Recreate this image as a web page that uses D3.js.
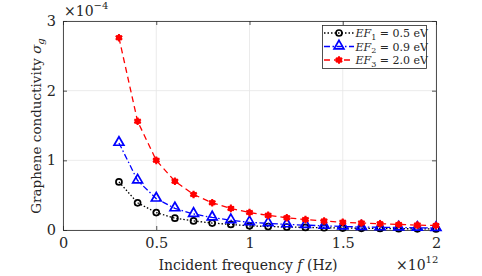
<!DOCTYPE html>
<html><head><meta charset="utf-8">
<script src="https://cdn.jsdelivr.net/npm/d3@7"></script>
<style>body{margin:0;background:#fff}svg{display:block}</style>
</head><body><svg id="c" width="482" height="276"></svg>
<script>
const freq = [0.3,0.4,0.5,0.6,0.7,0.8,0.9,1.0,1.1,1.2,1.3,1.4,1.5,1.6,1.7,1.8,1.9,2.0];
const ef1 = [0.69,0.39,0.25,0.17,0.13,0.10,0.08,0.06,0.05,0.043,0.037,0.032,0.028,0.024,0.022,0.019,0.017,0.016];
const ef2 = [1.25,0.71,0.45,0.31,0.23,0.18,0.14,0.11,0.095,0.08,0.07,0.06,0.05,0.044,0.039,0.035,0.031,0.028];
const ef3 = [2.76,1.56,1.00,0.70,0.51,0.39,0.31,0.25,0.21,0.175,0.15,0.13,0.11,0.10,0.09,0.08,0.07,0.065];
const xTicks = [0,0.5,1,1.5,2];
const xTickLabels = ["0","0.5","1","1.5","2"];
const yTicks = [0,1,2,3];
const yTickLabels = ["0","1","2","3"];
const legendLabels = [["EF","1","0.5"],["EF","2","0.9"],["EF","3","2.0"]];

const FONT = "'DejaVu Serif', serif";
const svg = d3.select("#c");
const L=63,R=436,T=21,B=230;
const x = d3.scaleLinear().domain([0,2]).range([L,R]);
const y = d3.scaleLinear().domain([0,3]).range([B,T]);

const g = svg.append("g");
xTicks.forEach(t=>g.append("line").attr("x1",x(t)).attr("x2",x(t)).attr("y1",T).attr("y2",B).attr("stroke","#e6e6e6").attr("stroke-width",0.8));
yTicks.forEach(t=>g.append("line").attr("x1",L).attr("x2",R).attr("y1",y(t)).attr("y2",y(t)).attr("stroke","#e6e6e6").attr("stroke-width",0.8));

const xa = svg.append("g").attr("transform",`translate(0,${B})`).call(d3.axisBottom(x).tickValues(xTicks).tickFormat((d,i)=>xTickLabels[i]).tickSizeInner(-4).tickSizeOuter(0).tickPadding(8));
const xa2 = svg.append("g").attr("transform",`translate(0,${T})`).call(d3.axisTop(x).tickValues(xTicks).tickFormat("").tickSizeInner(-4).tickSizeOuter(0));
const ya = svg.append("g").attr("transform",`translate(${L},0)`).call(d3.axisLeft(y).tickValues(yTicks).tickFormat((d,i)=>yTickLabels[i]).tickSizeInner(-4).tickSizeOuter(0).tickPadding(7));
const ya2 = svg.append("g").attr("transform",`translate(${R},0)`).call(d3.axisRight(y).tickValues(yTicks).tickFormat("").tickSizeInner(-4).tickSizeOuter(0));
[xa,xa2,ya,ya2].forEach(a=>{a.attr("font-family",FONT);a.select(".domain").attr("stroke","#262626").attr("stroke-width",0.8);a.selectAll("line").attr("stroke","#262626").attr("stroke-width",0.8);a.selectAll("text").style("font-family",FONT).style("font-size","14.5px").attr("fill","#262626");});

const series = [
 {v:ef1,color:"#000",dash:"1.5,2",marker:"circle"},
 {v:ef2,color:"#0000ff",dash:"6,2.5,1.5,2.5",marker:"tri"},
 {v:ef3,color:"#ff0000",dash:"6,4",marker:"star"}
];
const line = d3.line().x(d=>x(d[0])).y(d=>y(d[1]));
function drawMarker(sel,m,color,cx,cy){
  if(m==="circle") sel.append("circle").attr("cx",cx).attr("cy",cy).attr("r",3).attr("fill","none").attr("stroke",color).attr("stroke-width",1.7);
  else if(m==="tri") sel.append("path").attr("d",d3.symbol(d3.symbolTriangle,42)()).attr("transform",`translate(${cx},${cy-0.5})`).attr("fill","none").attr("stroke",color).attr("stroke-width",1.7);
  else {sel.append("path").attr("d",d3.symbol(d3.symbolAsterisk,40)()).attr("transform",`translate(${cx},${cy})`).attr("fill","none").attr("stroke",color).attr("stroke-width",2);
        sel.append("circle").attr("cx",cx).attr("cy",cy).attr("r",3).attr("fill",color);}
}
series.forEach(s=>{
  const pts = freq.map((f,i)=>[f,s.v[i]]);
  svg.append("path").attr("d",line(pts)).attr("fill","none").attr("stroke",s.color).attr("stroke-width",1.3).attr("stroke-dasharray",s.dash);
  const mg = svg.append("g");
  pts.forEach(p=>drawMarker(mg,s.marker,s.color,x(p[0]),y(p[1])));
});

function txt(sel){return sel.append("text").style("font-family",FONT).attr("fill","#262626");}

const lg = svg.append("g");
lg.append("rect").attr("x",322.5).attr("y",25.5).attr("width",104).attr("height",43).attr("fill","#fff").attr("stroke","#262626").attr("stroke-width",0.8);
series.forEach((s,i)=>{
  const yy = 33+i*13.5;
  lg.append("line").attr("x1",324).attr("x2",354).attr("y1",yy).attr("y2",yy).attr("stroke",s.color).attr("stroke-width",1.3).attr("stroke-dasharray",s.dash);
  drawMarker(lg,s.marker,s.color,339,yy);
  const t = txt(lg).attr("x",355.5).attr("y",yy+4).style("font-size","11px");
  t.append("tspan").style("font-style","italic").text(legendLabels[i][0]);
  t.append("tspan").attr("dy",2.5).style("font-size","8px").text(legendLabels[i][1]);
  t.append("tspan").attr("dy",-2.5).text(" = "+legendLabels[i][2]+" eV");
});

const xl = txt(svg).attr("x",248).attr("y",270).attr("text-anchor","middle").style("font-size","14px");
xl.append("tspan").text("Incident frequency ");
xl.append("tspan").style("font-style","italic").text("f");
xl.append("tspan").text(" (Hz)");
const yl = txt(svg).attr("transform","translate(41,126) rotate(-90)").attr("text-anchor","middle").style("font-size","13.5px");
yl.append("tspan").text("Graphene conductivity ");
yl.append("tspan").style("font-style","italic").text("σ");
yl.append("tspan").attr("dy",3).style("font-size","10px").style("font-style","italic").text("g");

const e1 = txt(svg).attr("x",64).attr("y",16).style("font-size","14px");
e1.append("tspan").text("×10");
e1.append("tspan").attr("dy",-7).style("font-size","10px").text("−4");
const e2 = txt(svg).attr("x",396).attr("y",270).style("font-size","14px");
e2.append("tspan").text("×10");
e2.append("tspan").attr("dy",-7).style("font-size","10px").text("12");
</script></body></html>
